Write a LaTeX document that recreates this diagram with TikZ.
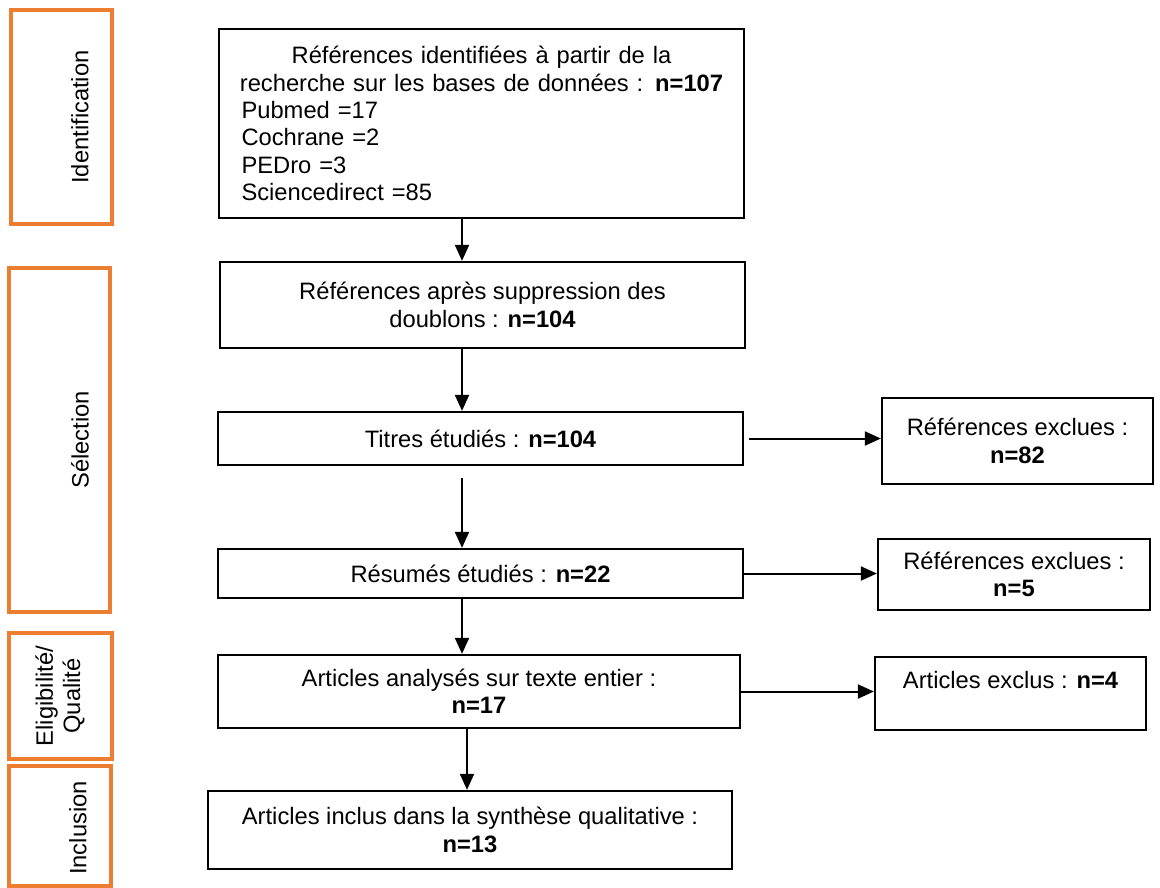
\documentclass[tikz,border=0pt]{standalone}
\usepackage{fontspec}
\setmainfont{Liberation Sans}
\usetikzlibrary{arrows.meta}
\definecolor{phaseorange}{HTML}{ED7D31}

\begin{document}
\begin{tikzpicture}[x=0.02cm, y=-0.02cm,
  font=\fontsize{13.5}{15.6}\selectfont,
  mainbox/.style={draw, line width=0.046cm, align=center, inner sep=0pt},
  phasebox/.style={draw=phaseorange, line width=0.066cm},
  phasetext/.style={rotate=90, align=center, inner sep=0pt},
  flow/.style={line width=0.04cm, -{Triangle[length=0.32cm,width=0.28cm]}}]

\useasboundingbox (0,0) rectangle (1160,887);

% phases on the left
\node[phasebox, minimum width=2.02cm, minimum height=4.28cm] (ident) at (61.5,117) {};
\node[phasebox, minimum width=2.02cm, minimum height=6.88cm] (select) at (59.5,440) {};
\node[phasebox, minimum width=2.06cm, minimum height=2.52cm] (elig) at (60.5,696) {};
\node[phasebox, minimum width=2.04cm, minimum height=2.4cm] (incl) at (60,826) {};

\node[phasetext] (identlbl) at (80,117) {Identification};
\node[phasetext] (selectlbl) at (80,440) {Sélection};
\node[phasetext] (eliglbl) at (60,696) {Eligibilité/\\Qualité};
\node[phasetext] (incllbl) at (78,828) {Inclusion};

% main column
\node[mainbox, minimum width=10.5cm, minimum height=3.78cm, text width=9.6cm,
      inner xsep=0.44cm, align=left] (etape1) at (481.5,123.5)
  {\makebox[9.6cm]{Références identifiées à partir de la}\\
   \makebox[9.6cm]{recherche sur les bases de données : \textbf{n=107}}\\
   Pubmed =17\\
   Cochrane =2\\
   PEDro =3\\
   Sciencedirect =85};

\node[mainbox, minimum width=10.5cm, minimum height=1.72cm] (etape2) at (482.5,305)
  {Références après suppression des\\doublons : \textbf{n=104}};

\node[mainbox, minimum width=10.5cm, minimum height=1.06cm] (etape3) at (480.5,438.5)
  {Titres étudiés : \textbf{n=104}};

\node[mainbox, minimum width=10.5cm, minimum height=0.98cm] (etape4) at (480.5,573.5)
  {Résumés étudiés : \textbf{n=22}};

\node[mainbox, minimum width=10.44cm, minimum height=1.46cm] (etape5) at (479,691.5)
  {Articles analysés sur texte entier :\\\textbf{n=17}};

\node[mainbox, minimum width=10.48cm, minimum height=1.56cm] (etape6) at (470,830)
  {Articles inclus dans la synthèse qualitative :\\\textbf{n=13}};

% exclusions
\node[mainbox, minimum width=5.42cm, minimum height=1.72cm] (excl1) at (1017.5,441)
  {Références exclues :\\\textbf{n=82}};

\node[mainbox, minimum width=5.44cm, minimum height=1.42cm] (excl2) at (1014,574.5)
  {Références exclues :\\\textbf{n=5}};

\node[mainbox, minimum width=5.42cm, minimum height=1.46cm] (excl3) at (1010.5,693.5)
  {Articles exclus : \textbf{n=4}\\~};

% arrows
\coordinate (spine) at (462,0);
\coordinate (spinelow) at (467,0);

\draw[flow] (etape1.south -| spine) -- (etape2.north -| spine);
\draw[flow] (etape2.south -| spine) -- (etape3.north -| spine);
\draw[flow, shorten <=0.24cm] (etape3.south -| spine) -- (etape4.north -| spine);
\draw[flow] (etape4.south -| spine) -- (etape5.north -| spine);
\draw[flow] (etape5.south -| spinelow) -- (etape6.north -| spinelow);

\draw[flow, shorten <=0.1cm] (etape3.east) -- (etape3.east -| excl1.west);
\draw[flow] (etape4.east) -- (etape4.east -| excl2.west);
\draw[flow] (etape5.east) -- (etape5.east -| excl3.west);

\end{tikzpicture}
\end{document}
